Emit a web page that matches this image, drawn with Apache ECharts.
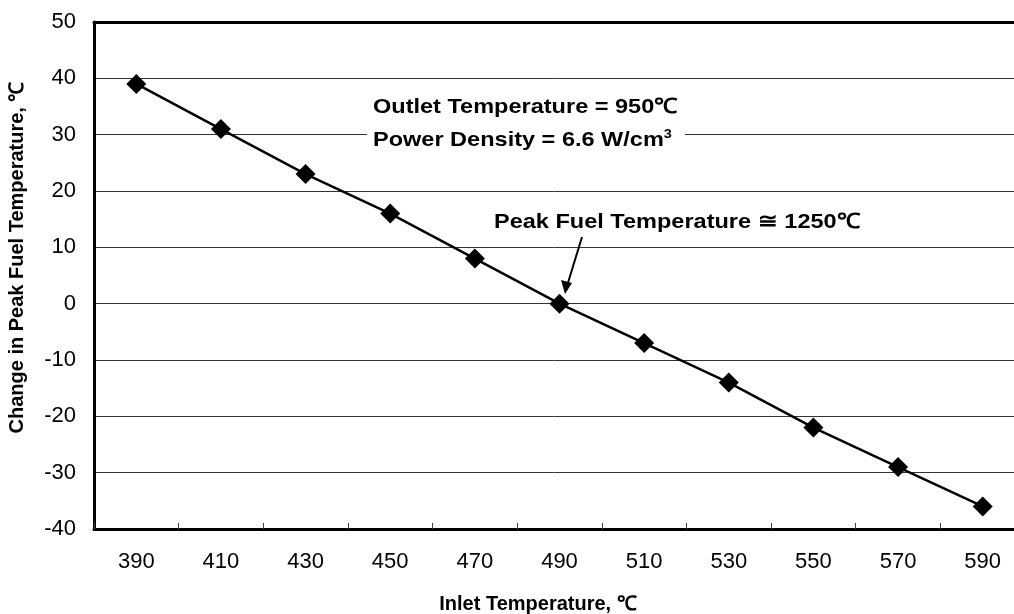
<!DOCTYPE html>
<html><head><meta charset="utf-8">
<script src="https://cdn.jsdelivr.net/npm/echarts@6/dist/echarts.min.js"></script>
<style>html,body{margin:0;padding:0;background:#fff}#c{width:1014px;height:614px}</style>
</head><body><div id="c"></div>
<script>
const categories = ['390','410','430','450','470','490','510','530','550','570','590'];
const peakChange = [39, 31, 23, 16, 8, 0, -7, -14, -22, -29, -36];
const yMin = -40, yMax = 50, yStep = 10;

const FONT = 'Liberation Sans';
const chart = echarts.init(document.getElementById('c'));
chart.setOption({
  animation: false,
  backgroundColor: '#fff',
  grid: { left: 94, width: 931, top: 22, height: 507, containLabel: false, outerBoundsMode: 'none' },
  xAxis: [{
    type: 'category', data: categories, boundaryGap: true,
    name: 'Inlet Temperature, \u2103', nameLocation: 'middle', nameGap: 65,
    nameTextStyle: { fontFamily: FONT, fontWeight: 'bold', fontSize: 20, color: '#000', padding: [0, 43, 0, 0] },
    axisLine: { onZero: false, lineStyle: { color: '#000', width: 3 } },
    axisTick: { show: true, inside: true, length: 6, alignWithLabel: false, lineStyle: { color: '#444', width: 1 } },
    axisLabel: { fontFamily: FONT, fontSize: 22, color: '#000', margin: 22 },
    splitLine: { show: false }
  }, {
    type: 'category', data: categories, position: 'top',
    axisLine: { onZero: false, lineStyle: { color: '#000', width: 3 } },
    axisTick: { show: false }, axisLabel: { show: false }
  }],
  yAxis: {
    type: 'value', min: yMin, max: yMax, interval: yStep,
    name: 'Change in Peak Fuel Temperature, \u2103', nameLocation: 'middle', nameGap: 67,
    nameTextStyle: { fontFamily: FONT, fontWeight: 'bold', fontSize: 20, color: '#000', padding: [0, 0, 0, 36] },
    axisLine: { show: true, onZero: false, lineStyle: { color: '#000', width: 3 } },
    axisTick: { show: false },
    axisLabel: { fontFamily: FONT, fontSize: 22, color: '#000', margin: 18 },
    splitLine: { show: true, lineStyle: { color: '#333', width: 1 } }
  },
  series: [{
    type: 'line', data: peakChange,
    symbol: 'path://M0,-1L1,0L0,1L-1,0Z', symbolSize: 20,
    itemStyle: { color: '#000' },
    lineStyle: { color: '#000', width: 2.5 },
    z: 5
  }],
  graphic: [
    { type: 'rect', shape: { x: 367, y: 122, width: 318, height: 28 }, style: { fill: '#fff' }, z: 10 },
    { type: 'text', x: 373, y: 107, scaleX: 1.12, z: 11, style: { text: 'Outlet Temperature = 950\u2103', font: 'bold 21px ' + FONT, fill: '#000', verticalAlign: 'middle' } },
    { type: 'text', x: 373, y: 140, scaleX: 1.12, z: 11, style: {
        text: '{a|Power Density = 6.6 W/cm}{s|3}',
        verticalAlign: 'middle',
        rich: { a: { font: 'bold 21px ' + FONT, color: '#000' }, s: { font: 'bold 13px ' + FONT, color: '#000', verticalAlign: 'top', padding: [0,0,12,0] } }
      } },
    { type: 'text', x: 494, y: 222, scaleX: 1.12, z: 11, style: { text: 'Peak Fuel Temperature \u2245 1250\u2103', font: 'bold 21px ' + FONT, fill: '#000', verticalAlign: 'middle' } },
    { type: 'line', z: 11, shape: { x1: 582, y1: 237, x2: 567, y2: 286 }, style: { stroke: '#000', lineWidth: 2 } },
    { type: 'polygon', z: 11, shape: { points: [[565, 294], [561, 280], [572, 283]] }, style: { fill: '#000' } }
  ]
});
</script></body></html>
